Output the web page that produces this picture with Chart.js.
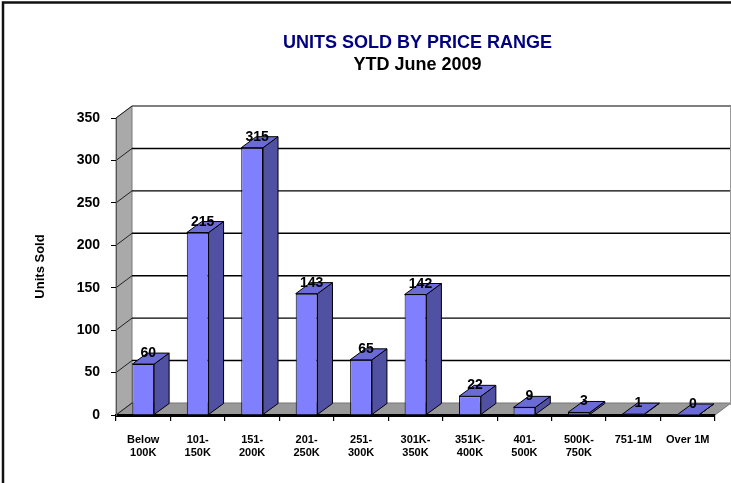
<!DOCTYPE html>
<html>
<head>
<meta charset="utf-8">
<script src="https://cdn.jsdelivr.net/npm/chart.js@4.4.1/dist/chart.umd.min.js"></script>
<style>
  body { margin: 0; background: #fff; }
</style>
</head>
<body>
<canvas id="unitsChart" width="731" height="483"></canvas>
<script>
// chart data
const categories = [['Below', '100K'], ['101-', '150K'], ['151-', '200K'], ['201-', '250K'], ['251-', '300K'],
    ['301K-', '350K'], ['351K-', '400K'], ['401-', '500K'], ['500K-', '750K'], '751-1M', 'Over 1M'];
const unitsSold = [60, 215, 315, 143, 65, 142, 22, 9, 3, 1, 0];
const yMin = 0;
const yMax = 350;
const yStep = 50;
const chartTitle = 'UNITS SOLD BY PRICE RANGE';
const chartSubtitle = 'YTD June 2009';
const yAxisTitle = 'Units Sold';

// depth of the 3d look
const wallDx = 16, wallDy = -12;
const barDx = 15, barDy = -11;

// walls, floor, gridlines and frame
const wallsPlugin = {
    id: 'walls',
    beforeDraw(chart) {
        const ctx = chart.ctx;
        const area = chart.chartArea;
        const yScale = chart.scales.y;
        const left = area.left, right = area.right, bottom = area.bottom, top = area.top;
        ctx.save();

        // outer frame
        ctx.strokeStyle = '#111';
        ctx.lineWidth = 2.5;
        ctx.strokeRect(3, 2.5, chart.width + 20, chart.height + 20);

        // left wall
        ctx.fillStyle = '#a9a9a9';
        ctx.beginPath();
        ctx.moveTo(left, bottom);
        ctx.lineTo(left, top);
        ctx.lineTo(left + wallDx, top + wallDy);
        ctx.lineTo(left + wallDx, bottom + wallDy);
        ctx.closePath();
        ctx.fill();
        ctx.strokeStyle = '#777';
        ctx.lineWidth = 1;
        ctx.stroke();

        // floor
        ctx.fillStyle = '#999999';
        ctx.beginPath();
        ctx.moveTo(left, bottom);
        ctx.lineTo(left + wallDx, bottom + wallDy);
        ctx.lineTo(right + wallDx, bottom + wallDy);
        ctx.lineTo(right, bottom);
        ctx.closePath();
        ctx.fill();
        ctx.strokeStyle = '#777';
        ctx.stroke();

        // gridlines on the back wall and side wall
        for (let v = yMin; v <= yMax; v += yStep) {
            const y = yScale.getPixelForValue(v);
            ctx.strokeStyle = '#222';
            ctx.lineWidth = 1;
            ctx.beginPath();
            ctx.moveTo(left, y);
            ctx.lineTo(left + wallDx, y + wallDy);
            ctx.stroke();
            if (v > yMin) {
                ctx.strokeStyle = v === yMax ? '#555' : '#000';
                ctx.lineWidth = 1.4;
                ctx.beginPath();
                ctx.moveTo(left + wallDx, y + wallDy);
                ctx.lineTo(right + wallDx, y + wallDy);
                ctx.stroke();
            }
        }

        // back wall right edge
        ctx.strokeStyle = '#999';
        ctx.lineWidth = 2;
        ctx.beginPath();
        ctx.moveTo(right + wallDx, top + wallDy);
        ctx.lineTo(right + wallDx, bottom + wallDy + 2);
        ctx.stroke();

        // titles
        const cx = (left + right) / 2 + 2;
        ctx.textAlign = 'center';
        ctx.textBaseline = 'middle';
        ctx.font = 'bold 18px "Liberation Sans", Arial, sans-serif';
        ctx.fillStyle = '#000080';
        ctx.fillText(chartTitle, cx, 43);
        ctx.fillStyle = '#000';
        ctx.fillText(chartSubtitle, cx, 65);
        ctx.restore();
    }
};

// side and top faces of the bars plus value labels
const bars3dPlugin = {
    id: 'bars3d',
    afterDatasetsDraw(chart) {
        const ctx = chart.ctx;
        const meta = chart.getDatasetMeta(0);
        ctx.save();
        ctx.lineWidth = 1;
        ctx.strokeStyle = '#000';
        meta.data.forEach((bar, i) => {
            const w = bar.width;
            const l = bar.x - w / 2, r = bar.x + w / 2;
            const t = bar.y, b = bar.base;

            // side
            ctx.fillStyle = '#5151a3';
            ctx.beginPath();
            ctx.moveTo(r, t);
            ctx.lineTo(r + barDx, t + barDy);
            ctx.lineTo(r + barDx, b + barDy);
            ctx.lineTo(r, b);
            ctx.closePath();
            ctx.fill();
            ctx.stroke();

            // top
            ctx.fillStyle = '#6b6bd8';
            ctx.beginPath();
            ctx.moveTo(l, t);
            ctx.lineTo(l + barDx, t + barDy);
            ctx.lineTo(r + barDx, t + barDy);
            ctx.lineTo(r, t);
            ctx.closePath();
            ctx.fill();
            ctx.stroke();

            // value
            ctx.fillStyle = '#000';
            ctx.font = 'bold 14px "Liberation Sans", Arial, sans-serif';
            ctx.textAlign = 'center';
            ctx.textBaseline = 'alphabetic';
            ctx.fillText(String(unitsSold[i]), bar.x + 5, t + barDy + 4);
        });
        ctx.restore();
    }
};

const ctx = document.getElementById('unitsChart').getContext('2d');
const chart = new Chart(ctx, {
    type: 'bar',
    data: {
        labels: categories,
        datasets: [{
            label: 'Units Sold',
            data: unitsSold,
            backgroundColor: '#8080ff',
            borderColor: '#000',
            borderWidth: 1,
            categoryPercentage: 1,
            barPercentage: 0.4
        }]
    },
    options: {
        responsive: false,
        animation: false,
        layout: { padding: { top: 118, right: 16, left: 28, bottom: 0 } },
        plugins: {
            legend: { display: false },
            tooltip: { enabled: false }
        },
        scales: {
            x: {
                afterFit(scale) { scale.height = 68; },
                grid: {
                    offset: true,
                    drawOnChartArea: false,
                    drawTicks: true,
                    tickLength: 6,
                    color: '#000',
                    lineWidth: 1.2
                },
                border: { display: true, color: '#000', width: 3 },
                ticks: {
                    color: '#000',
                    padding: 12,
                    maxRotation: 0,
                    autoSkip: false,
                    font: { family: '"Liberation Sans", Arial, sans-serif', size: 11, weight: 'bold', lineHeight: 1.2 }
                }
            },
            y: {
                min: yMin,
                max: yMax,
                afterFit(scale) { scale.width = 88; },
                grid: {
                    drawOnChartArea: false,
                    drawTicks: true,
                    tickLength: 5,
                    color: '#000'
                },
                border: { display: true, color: '#555', width: 1 },
                ticks: {
                    stepSize: yStep,
                    color: '#000',
                    padding: 11,
                    font: { family: '"Liberation Sans", Arial, sans-serif', size: 14, weight: 'bold' }
                },
                title: {
                    display: true,
                    text: yAxisTitle,
                    color: '#000',
                    padding: { top: 5, bottom: 0 },
                    font: { family: '"Liberation Sans", Arial, sans-serif', size: 13, weight: 'bold' }
                }
            }
        }
    },
    plugins: [wallsPlugin, bars3dPlugin]
});
</script>
</body>
</html>
